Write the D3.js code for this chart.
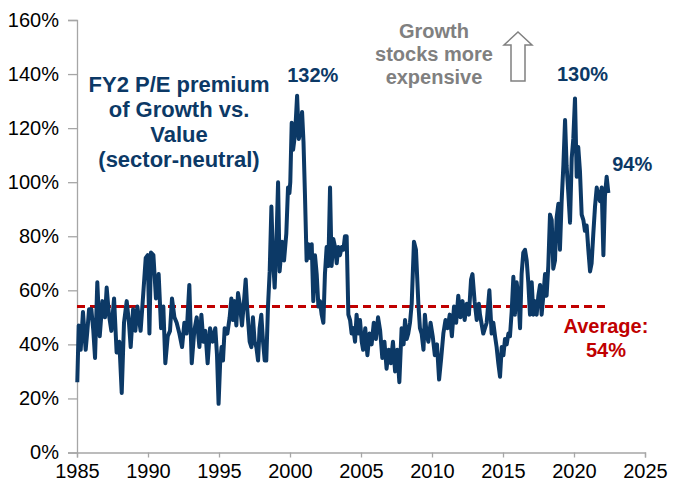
<!DOCTYPE html>
<html>
<head>
<meta charset="utf-8">
<script src="https://cdn.jsdelivr.net/npm/d3@7"></script>
<style>
  body { margin: 0; background: #fff; }
  text { font-family: "Liberation Sans", Arial, sans-serif; }
</style>
</head>
<body>
<div id="graph"></div>
<script>

var dates = [
  1985.02, 1985.12, 1985.26, 1985.42, 1985.61, 1985.73, 1985.85, 1986.01, 1986.15, 1986.27,
  1986.43, 1986.60, 1986.79, 1986.97, 1987.09, 1987.25, 1987.42, 1987.61, 1987.79, 1987.98,
  1988.15, 1988.31, 1988.50, 1988.66, 1988.78, 1988.95, 1989.11, 1989.25, 1989.48, 1989.67,
  1989.84, 1989.98, 1990.10, 1990.21, 1990.38, 1990.56, 1990.75, 1990.92, 1991.08, 1991.22,
  1991.39, 1991.55, 1991.69, 1991.86, 1992.02, 1992.21, 1992.40, 1992.56, 1992.72, 1992.91,
  1993.08, 1993.26, 1993.43, 1993.62, 1993.76, 1993.90, 1994.04, 1994.20, 1994.37, 1994.55,
  1994.74, 1994.86, 1994.97, 1995.08, 1995.18, 1995.28, 1995.40, 1995.59, 1995.75, 1995.87,
  1995.99, 1996.10, 1996.22, 1996.34, 1996.46, 1996.62, 1996.76, 1996.88, 1996.99, 1997.16,
  1997.28, 1997.39, 1997.51, 1997.63, 1997.75, 1997.86, 1997.98, 1998.10, 1998.22, 1998.33,
  1998.45, 1998.57, 1998.69, 1998.80, 1998.92, 1999.04, 1999.16, 1999.27, 1999.44, 1999.58,
  1999.74, 1999.86, 1999.96, 2000.02, 2000.12, 2000.22, 2000.36, 2000.50, 2000.62, 2000.74,
  2000.85, 2000.95, 2001.05, 2001.17, 2001.29, 2001.41, 2001.53, 2001.64, 2001.76, 2001.88,
  2002.00, 2002.11, 2002.23, 2002.35, 2002.46, 2002.58, 2002.70, 2002.82, 2002.93, 2003.05,
  2003.17, 2003.29, 2003.40, 2003.52, 2003.64, 2003.76, 2003.87, 2003.99, 2004.11, 2004.23,
  2004.34, 2004.46, 2004.58, 2004.69, 2004.81, 2004.93, 2005.05, 2005.15, 2005.30, 2005.45,
  2005.60, 2005.75, 2005.90, 2006.05, 2006.20, 2006.35, 2006.50, 2006.65, 2006.80, 2006.95,
  2007.10, 2007.25, 2007.40, 2007.55, 2007.70, 2007.86, 2008.00, 2008.10, 2008.22, 2008.33,
  2008.45, 2008.57, 2008.73, 2008.87, 2009.04, 2009.15, 2009.27, 2009.40, 2009.50, 2009.62,
  2009.74, 2009.90, 2010.05, 2010.20, 2010.35, 2010.50, 2010.65, 2010.80, 2010.95, 2011.10,
  2011.25, 2011.40, 2011.55, 2011.70, 2011.85, 2012.00, 2012.15, 2012.30, 2012.45, 2012.60,
  2012.75, 2012.85, 2013.00, 2013.15, 2013.30, 2013.38, 2013.61, 2013.85, 2014.04, 2014.20,
  2014.32, 2014.44, 2014.55, 2014.67, 2014.79, 2014.91, 2015.03, 2015.14, 2015.26, 2015.38,
  2015.49, 2015.61, 2015.73, 2015.84, 2015.96, 2016.08, 2016.20, 2016.31, 2016.43, 2016.55,
  2016.67, 2016.78, 2016.90, 2017.02, 2017.14, 2017.25, 2017.37, 2017.49, 2017.61, 2017.72,
  2017.84, 2017.96, 2018.07, 2018.19, 2018.31, 2018.43, 2018.54, 2018.66, 2018.78, 2018.90,
  2019.01, 2019.13, 2019.25, 2019.37, 2019.48, 2019.60, 2019.72, 2019.84, 2019.95, 2020.07,
  2020.19, 2020.30, 2020.42, 2020.54, 2020.66, 2020.77, 2020.89, 2021.01, 2021.13, 2021.24,
  2021.36, 2021.48, 2021.60, 2021.71, 2021.83, 2021.95, 2022.07, 2022.18, 2022.30, 2022.42
];

// FY2 P/E premium of Growth vs. Value, in %
var premium = [
  26, 47, 38, 52, 38, 45, 53, 53, 45, 35,
  63, 43, 56, 50, 61, 51, 45, 57, 37, 41,
  22, 48, 56, 48, 39, 53, 45, 54, 45, 59,
  72, 73, 44, 74, 73, 57, 66, 46, 54, 33,
  43, 45, 57, 50, 48, 44, 39, 48, 44, 62,
  33, 45, 50, 39, 51, 41, 45, 33, 46, 41,
  46, 36, 18, 33, 39, 34, 46, 44, 50, 57,
  49, 56, 47, 59, 55, 47, 56, 64, 53, 41,
  39, 50, 41, 39, 34, 46, 51, 41, 34, 34,
  54, 67, 91, 72, 61, 77, 100, 67, 78, 71,
  81, 98, 96, 100, 122, 112, 118, 132, 116, 119,
  126, 115, 96, 71, 77, 72, 77, 56, 73, 66,
  54, 56, 51, 48, 66, 76, 69, 98, 69, 79,
  76, 70, 76, 73, 76, 75, 80, 80, 51, 49,
  44, 46, 41, 51, 44, 49, 41, 38, 46, 36,
  44, 40, 48, 42, 50, 45, 35, 41, 31, 38,
  33, 41, 30, 38, 26, 46, 40, 49, 42, 44,
  48, 55, 78, 75, 55, 46, 44, 38, 51, 44,
  41, 48, 43, 36, 40, 27, 35, 44, 49, 46,
  51, 43, 54, 48, 58, 50, 56, 49, 55, 51,
  64, 66, 56, 49, 55, 51, 44, 48, 60, 44,
  48, 43, 39, 33, 28, 39, 36, 42, 40, 44,
  43, 52, 65, 51, 63, 58, 46, 66, 74, 75,
  71, 63, 51, 63, 51, 56, 51, 58, 62, 51,
  58, 66, 58, 69, 88, 86, 68, 71, 87, 92,
  75, 93, 106, 123, 106, 96, 85, 109, 116, 131,
  102, 113, 104, 88, 86, 82, 84, 75, 67, 70,
  81, 91, 98, 95, 93, 98, 73, 95, 102, 96
];

var xTicks = [1985, 1990, 1995, 2000, 2005, 2010, 2015, 2020, 2025];
var yTicks = [0, 20, 40, 60, 80, 100, 120, 140, 160];

var averageValue = 54;
var averageSpan = [1985, 2022.3];

var titleLines = ["FY2 P/E premium", "of Growth vs.", "Value", "(sector-neutral)"];
var arrowLines = ["Growth", "stocks more", "expensive"];
var averageLines = ["Average:", "54%"];

// callouts: [year, value, text]
var callouts = [
  [2001.6, 137, "132%"],
  [2020.6, 137.5, "130%"],
  [2024.1, 104, "94%"]
];

var navy = "#0c3966",
    red = "#c00000",
    grey = "#808080",
    axisGrey = "#a6a6a6";

// set the dimensions and margins of the graph
var margin = {top: 20, right: 40, bottom: 31.5, left: 77},
    width = 685 - margin.left - margin.right,
    height = 484 - margin.top - margin.bottom;

var svg = d3.select("#graph")
  .append("svg")
    .attr("width", 685)
    .attr("height", 484)
  .append("g")
    .attr("transform", "translate(" + margin.left + "," + margin.top + ")");

var x = d3.scaleLinear()
  .domain([1985, 2025])
  .range([0, width]);

var y = d3.scaleLinear()
  .domain([0, 160])
  .range([height, 0]);

// X axis
var xAxis = svg.append("g")
  .attr("transform", "translate(0," + height + ")")
  .call(d3.axisBottom(x).tickValues(xTicks).tickFormat(d3.format("d")).tickSize(5).tickPadding(6));

// Y axis
var yAxis = svg.append("g")
  .call(d3.axisLeft(y).tickValues(yTicks).tickFormat(function(d) { return d + "%"; }).tickSize(9).tickPadding(9));

[xAxis, yAxis].forEach(function(a) {
  a.selectAll("path, line").attr("stroke", axisGrey).attr("stroke-width", 1.3);
  a.selectAll("text").attr("fill", "#000").style("font-size", "20px")
    .style("font-family", "'Liberation Sans', Arial, sans-serif");
});
xAxis.selectAll("text").attr("dy", "0.71em");

// average line
svg.append("line")
  .attr("x1", x(averageSpan[0]))
  .attr("x2", x(averageSpan[1]))
  .attr("y1", y(averageValue))
  .attr("y2", y(averageValue))
  .attr("stroke", red)
  .attr("stroke-width", 3)
  .attr("stroke-dasharray", "8,5");

// the series
var data = dates.map(function(d, i) { return {date: d, value: premium[i]}; });

svg.append("path")
  .datum(data)
  .attr("fill", "none")
  .attr("stroke", navy)
  .attr("stroke-width", 4)
  .attr("stroke-linejoin", "round")
  .attr("d", d3.line()
    .x(function(d) { return x(d.date) })
    .y(function(d) { return y(d.value) })
  );

// title block
svg.append("text")
  .attr("text-anchor", "middle")
  .attr("fill", navy)
  .style("font-weight", "bold")
  .style("font-size", "22px")
  .selectAll("tspan")
  .data(titleLines)
  .enter()
  .append("tspan")
    .attr("x", 102)
    .attr("y", function(d, i) { return 72 + i * 25; })
    .text(function(d) { return d; });

// peak callouts
svg.selectAll(".callout")
  .data(callouts)
  .enter()
  .append("text")
    .attr("class", "callout")
    .attr("text-anchor", "middle")
    .attr("x", function(d) { return x(d[0]); })
    .attr("y", function(d) { return y(d[1]); })
    .attr("fill", navy)
    .style("font-weight", "bold")
    .style("font-size", "20px")
    .text(function(d) { return d[2]; });

// average label
svg.append("text")
  .attr("text-anchor", "middle")
  .attr("fill", red)
  .style("font-weight", "bold")
  .style("font-size", "20px")
  .selectAll("tspan")
  .data(averageLines)
  .enter()
  .append("tspan")
    .attr("x", x(2022.25))
    .attr("y", function(d, i) { return 313 + i * 24; })
    .text(function(d) { return d; });

// growth annotation with outline arrow
svg.append("text")
  .attr("text-anchor", "middle")
  .attr("fill", grey)
  .style("font-weight", "bold")
  .style("font-size", "20px")
  .selectAll("tspan")
  .data(arrowLines)
  .enter()
  .append("tspan")
    .attr("x", 357)
    .attr("y", function(d, i) { return 18 + i * 23; })
    .text(function(d) { return d; });

svg.append("path")
  .attr("transform", "translate(441,12)")
  .attr("d", "M0,0 L14,13 L7,13 L7,49 L-7,49 L-7,13 L-14,13 Z")
  .attr("fill", "#fff")
  .attr("stroke", grey)
  .attr("stroke-width", 1.5);

</script>
</body>
</html>
